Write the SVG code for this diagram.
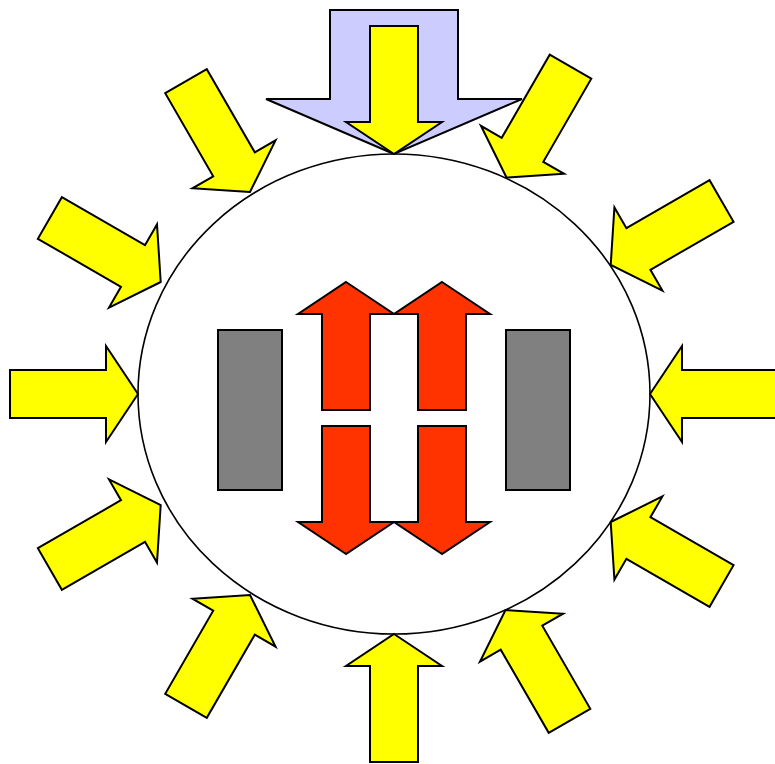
<svg xmlns="http://www.w3.org/2000/svg" xmlns:xlink="http://www.w3.org/1999/xlink" width="775" height="764" viewBox="0 0 775 764">
<style>
.ell{fill:#ffffff;stroke:#000;stroke-width:1.6}
.y{fill:#ffff00;stroke:#000;stroke-width:2;stroke-linejoin:miter}
.r{fill:#ff3300;stroke:#000;stroke-width:2;stroke-linejoin:miter}
.b{fill:#ccccff;stroke:#000;stroke-width:2;stroke-linejoin:miter}
.g{fill:#808080;stroke:#000;stroke-width:2}
</style>
<defs>
<path id="arr" d="M0,0 L-48,-32 L-24,-32 L-24,-128 L24,-128 L24,-32 L48,-32 Z"/>
</defs>
<rect width="775" height="764" fill="#ffffff"/>
<g id="body"><ellipse class="ell" cx="394" cy="394" rx="256" ry="240"/></g>
<g id="big-arrow"><path class="b" d="M394,154 L266,99 L330,99 L330,10 L458,10 L458,99 L522,99 Z"/></g>
<g id="yellow-arrows">
<g id="a0"><use href="#arr" xlink:href="#arr" class="y" transform="translate(394,154)"/></g>
<g id="a30"><use href="#arr" xlink:href="#arr" class="y" transform="translate(506.5,177.5) rotate(30)"/></g>
<g id="a60"><use href="#arr" xlink:href="#arr" class="y" transform="translate(610.7,265) rotate(60)"/></g>
<g id="a90"><use href="#arr" xlink:href="#arr" class="y" transform="translate(650,394) rotate(90)"/></g>
<g id="a120"><use href="#arr" xlink:href="#arr" class="y" transform="translate(610.7,522) rotate(120)"/></g>
<g id="a150"><use href="#arr" xlink:href="#arr" class="y" transform="translate(505.5,610) rotate(150)"/></g>
<g id="a180"><use href="#arr" xlink:href="#arr" class="y" transform="translate(394,634) rotate(180)"/></g>
<g id="a210"><use href="#arr" xlink:href="#arr" class="y" transform="translate(250,595) rotate(210)"/></g>
<g id="a240"><use href="#arr" xlink:href="#arr" class="y" transform="translate(160.7,505) rotate(240)"/></g>
<g id="a270"><use href="#arr" xlink:href="#arr" class="y" transform="translate(138,394) rotate(270)"/></g>
<g id="a300"><use href="#arr" xlink:href="#arr" class="y" transform="translate(160.7,282) rotate(300)"/></g>
<g id="a330"><use href="#arr" xlink:href="#arr" class="y" transform="translate(250,192) rotate(330)"/></g>
</g>
<g id="red-arrows">
<g id="r-ul"><use href="#arr" xlink:href="#arr" class="r" transform="translate(346,282) rotate(180)"/></g>
<g id="r-ur"><use href="#arr" xlink:href="#arr" class="r" transform="translate(442,282) rotate(180)"/></g>
<g id="r-dl"><use href="#arr" xlink:href="#arr" class="r" transform="translate(346,554)"/></g>
<g id="r-dr"><use href="#arr" xlink:href="#arr" class="r" transform="translate(442,554)"/></g>
</g>
<g id="plate-left"><rect class="g" x="218" y="330" width="64" height="160"/></g>
<g id="plate-right"><rect class="g" x="506" y="330" width="64" height="160"/></g>
</svg>
